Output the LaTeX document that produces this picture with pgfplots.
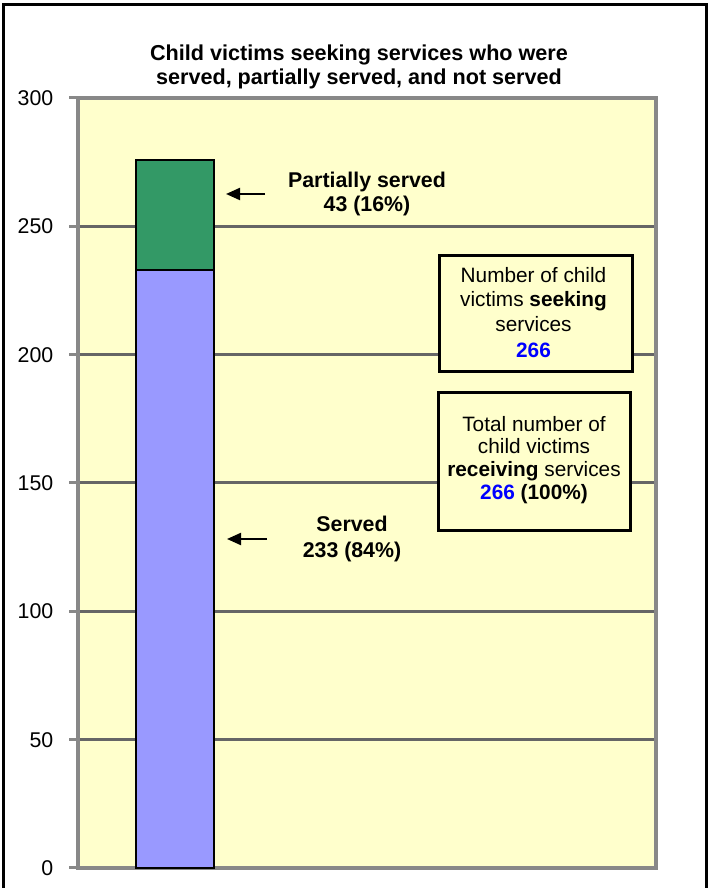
\documentclass[border=0pt]{standalone}
\usepackage{fontspec}
\setmainfont{Liberation Sans}
\usepackage{pgfplots}
\pgfplotsset{compat=1.18}
\usetikzlibrary{arrows.meta}
\definecolor{bgc}{HTML}{FFFFCC}
\definecolor{gridc}{HTML}{666666}
\definecolor{framec}{HTML}{888888}
\definecolor{servedc}{HTML}{9999FF}
\definecolor{partc}{HTML}{339966}
\definecolor{bluetxt}{HTML}{0000FF}
\begin{document}
\begin{tikzpicture}
\useasboundingbox (0,0) rectangle (531.75pt,666pt);
\begin{axis}[
  at={(58.5pt,15pt)}, anchor=south west,
  scale only axis, width=433.5pt, height=577.5pt,
  xmin=0, xmax=1, ymin=0, ymax=300,
  ytick={0,50,...,300}, xtick=\empty,
  ymajorgrids, major grid style={line width=2.25pt, color=gridc},
  axis line style={line width=2.4pt, draw=framec},
  axis background/.style={fill=bgc},
  tick align=outside, major tick length=6.75pt,
  ytick pos=left,
  major tick style={line width=2.25pt, color=framec},
  /pgf/number format/assume math mode=true,
  yticklabel style={font=\fontsize{16}{16}\selectfont, text=black, xshift=-8.25pt},
  ybar stacked, bar width=58.5pt,
  clip=false,
]
\addplot[fill=servedc, draw=black, line width=1.6pt] coordinates {(0.1678,233)};
\addplot[fill=partc, draw=black, line width=1.6pt] coordinates {(0.1678,43)};
\end{axis}
\begin{scope}[shift={(0pt,666pt)}, x=0.75pt, y=-0.75pt]
% outer frame (bottom cut off)
\draw[line width=2.25pt, black] (3,890) -- (3,5) -- (706,5) -- (706,890);
% title
\node[font=\bfseries\fontsize{16.2}{18}\selectfont, anchor=base, inner sep=0pt] at (359,61) {Child victims seeking services who were};
\node[font=\bfseries\fontsize{16.2}{18}\selectfont, anchor=base, inner sep=0pt] at (359,85) {served, partially served, and not served};
% annotations
\node[font=\bfseries\fontsize{16}{18}\selectfont, anchor=base, inner sep=0pt] at (367,188) {Partially served};
\node[font=\bfseries\fontsize{16}{18}\selectfont, anchor=base, inner sep=0pt] at (367,212) {43 (16\%)};
\draw[-{Triangle[length=10.5pt,width=9pt]}, line width=1.6pt] (265,194) -- (226,194);
\node[font=\bfseries\fontsize{16}{18}\selectfont, anchor=base, inner sep=0pt] at (352,532) {Served};
\node[font=\bfseries\fontsize{16}{18}\selectfont, anchor=base, inner sep=0pt] at (352,558) {233 (84\%)};
\draw[-{Triangle[length=10.5pt,width=9pt]}, line width=1.6pt] (267,539) -- (227,539);
% box 1
\filldraw[fill=bgc, draw=black, line width=2.25pt] (439,256) rectangle (632,372);
\node[font=\fontsize{15.6}{17}\selectfont, anchor=base, inner sep=0pt] at (533.5,283) {Number of child};
\node[font=\fontsize{15.6}{17}\selectfont, anchor=base, inner sep=0pt] at (533.5,307) {victims \textbf{seeking}};
\node[font=\fontsize{15.6}{17}\selectfont, anchor=base, inner sep=0pt] at (533.5,332) {services};
\node[font=\bfseries\fontsize{15.6}{17}\selectfont, text=bluetxt, anchor=base, inner sep=0pt] at (533.5,358) {266};
% box 2
\filldraw[fill=bgc, draw=black, line width=2.25pt] (438,393) rectangle (630,531);
\node[font=\fontsize{15.6}{17}\selectfont, anchor=base, inner sep=0pt] at (534,432) {Total number of};
\node[font=\fontsize{15.6}{17}\selectfont, anchor=base, inner sep=0pt] at (534,454) {child victims};
\node[font=\fontsize{15.6}{17}\selectfont, anchor=base, inner sep=0pt] at (534,477) {\textbf{receiving} services};
\node[font=\fontsize{15.6}{17}\selectfont, anchor=base, inner sep=0pt] at (534,500) {\textbf{\textcolor{bluetxt}{266} (100\%)}};
\end{scope}
\end{tikzpicture}
\end{document}
